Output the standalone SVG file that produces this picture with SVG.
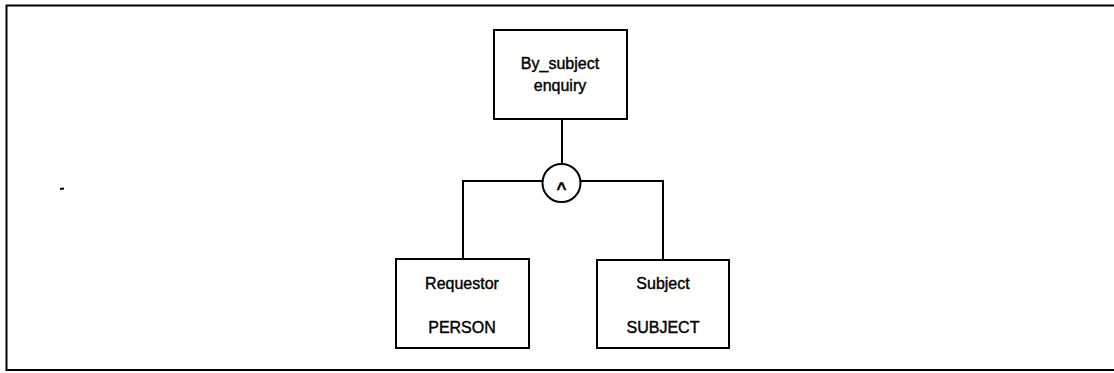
<svg xmlns="http://www.w3.org/2000/svg" width="1114" height="373" viewBox="0 0 1114 373">
  <style>
    .box { fill: #fff; stroke: #000; stroke-width: 2; }
    .wire { fill: none; stroke: #000; stroke-width: 2; }
    .lbl { font-family: "Liberation Sans", Arial, sans-serif; font-size: 16px; fill: #000; stroke: #000; stroke-width: 0.4; text-anchor: middle; }
  </style>
  <rect width="1114" height="373" fill="#fff"/>
  <!-- outer frame, open at the right edge -->
  <path class="wire" d="M1116 5.5 H6.5 V370 H1116"/>
  <!-- stray mark -->
  <line x1="60" y1="189" x2="64" y2="188.5" stroke="#000" stroke-width="2"/>

  <g id="connectors">
    <line class="wire" x1="562" y1="119" x2="562" y2="164"/>
    <path class="wire" d="M543 181 H463 V259"/>
    <path class="wire" d="M580 181 H663 V260"/>
  </g>

  <g id="and-gate">
    <circle class="box" cx="561.5" cy="183" r="19"/>
    <text class="lbl" x="561.5" y="194" style="font-size:17px;font-weight:bold">^</text>
  </g>

  <g id="by-subject-enquiry">
    <rect class="box" x="494" y="30" width="133" height="89"/>
    <text class="lbl" x="560" y="69">By_subject</text>
    <text class="lbl" x="560" y="91">enquiry</text>
  </g>

  <g id="requestor">
    <rect class="box" x="396" y="259" width="133" height="89"/>
    <text class="lbl" x="462" y="289">Requestor</text>
    <text class="lbl" x="462" y="333">PERSON</text>
  </g>

  <g id="subject">
    <rect class="box" x="597" y="260" width="132" height="88"/>
    <text class="lbl" x="663" y="289">Subject</text>
    <text class="lbl" x="663" y="333">SUBJECT</text>
  </g>
</svg>
